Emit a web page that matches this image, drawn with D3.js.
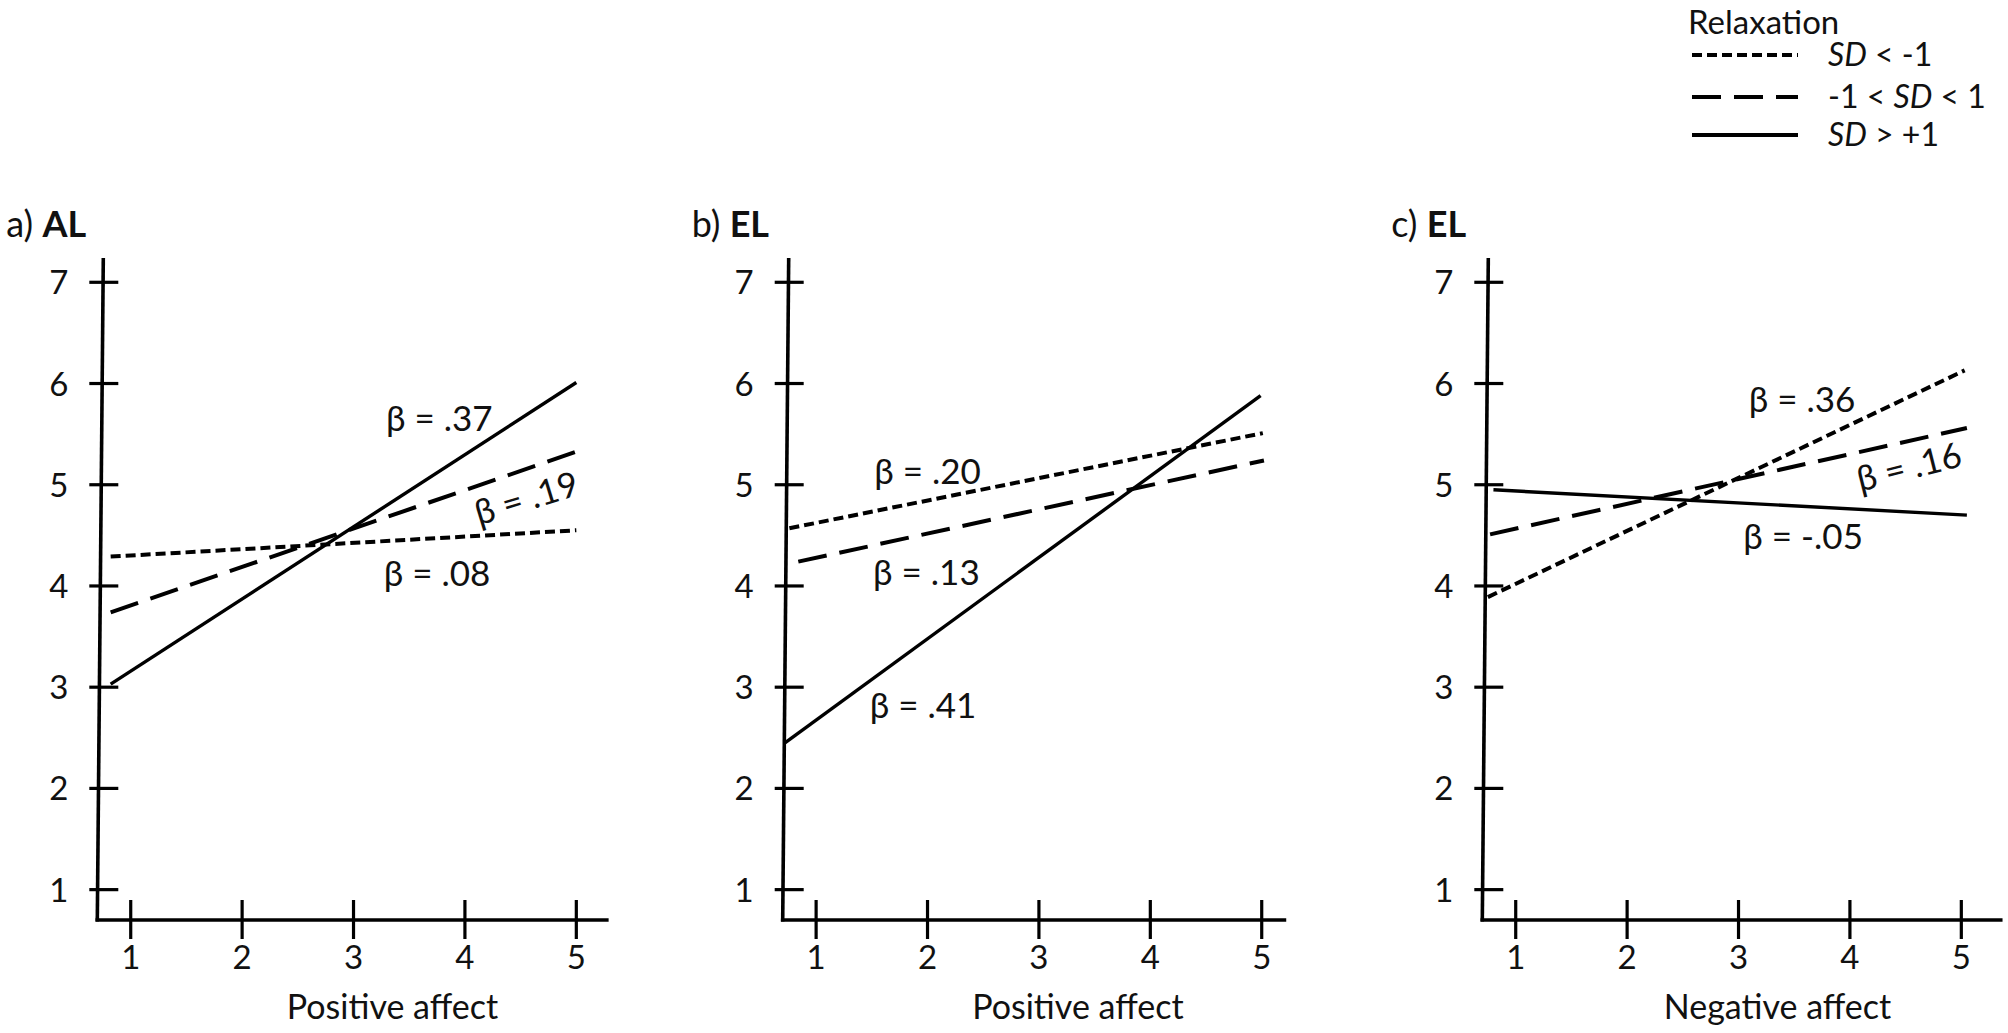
<!DOCTYPE html>
<html>
<head>
<meta charset="utf-8">
<script src="https://cdn.jsdelivr.net/npm/d3@7"></script>
<style>
  html, body { margin: 0; padding: 0; background: #fff; }
  svg { display: block; }
  text { font-family: Lato, "Open Sans", sans-serif; fill: #111; }
</style>
</head>
<body>
<svg id="chart" width="2008" height="1033"></svg>
<script>
// ---------------- DATA ----------------
const panelLetters = ["a) ", "b) ", "c) "];
const panelOutcomes = ["AL", "EL", "EL"];
const xAxisTitles = ["Positive affect", "Positive affect", "Negative affect"];
const xTickValues = [1, 2, 3, 4, 5];
const yTickValues = [1, 2, 3, 4, 5, 6, 7];
const legendTitle = "Relaxation";
const seriesKeys = ["low", "mid", "high"];
// legend labels: [prefix, italic part, suffix]
const seriesLabels = [
  ["", "SD", " < -1"],
  ["-1 < ", "SD", " < 1"],
  ["", "SD", " > +1"]
];
// endpoints of simple slopes [ [x0, y0], [x1, y1] ] per panel
const lowLines  = [[[0.82, 4.29], [5.00, 4.55]], [[0.76, 4.57], [5.01, 5.51]], [[0.75, 3.89], [5.03, 6.13]]];
const midLines  = [[[0.82, 3.74], [5.01, 5.33]], [[0.84, 4.24], [5.02, 5.24]], [[0.77, 4.51], [5.05, 5.56]]];
const highLines = [[[0.82, 3.03], [5.00, 6.01]], [[0.72, 2.45], [4.99, 5.88]], [[0.80, 4.95], [5.05, 4.70]]];
// beta labels per panel
const betaLow  = [".08", ".20", ".36"];
const betaMid  = [".19", ".13", ".16"];
const betaHigh = [".37", ".41", "-.05"];

// ---------------- LAYOUT (positions/styles only) ----------------
const panelLeft = [97.3, 782.7, 1482.3];
const panelXMax = [5.29, 5.22, 5.37];
const xMin = 0.7, yMin = 0.7, yMax = 7.24;
const pxPerX = 111.4;
const yTop = 258, yBottom = 920;
const axisSlant = 6;
const betaLowPos  = [[3.75, 4.12, 0], [2.00, 5.13, 0], [3.57, 5.84, 0]];
const betaMidPos  = [[4.55, 4.87, -17], [1.99, 4.13, 0], [4.53, 5.18, -14]];
const betaHighPos = [[3.77, 5.66, 0], [1.96, 2.82, 0], [3.58, 4.49, 0]];
const axisTitleX = 3.35;
const styles = {
  low:  { dash: "10,5",  width: 4 },
  mid:  { dash: "29,13", width: 4 },
  high: { dash: null,    width: 3.4 }
};

const svg = d3.select("#chart");
const y = d3.scaleLinear().domain([yMin, yMax]).range([yBottom, yTop]);

const seriesData = { low: lowLines, mid: midLines, high: highLines };
const betaText = { low: betaLow, mid: betaMid, high: betaHigh };
const betaPos = { low: betaLowPos, mid: betaMidPos, high: betaHighPos };

panelLeft.forEach((left, p) => {
  const x = d3.scaleLinear()
    .domain([xMin, panelXMax[p]])
    .range([left, left + (panelXMax[p] - xMin) * pxPerX]);
  const g = svg.append("g");

  const t = g.append("text")
    .attr("x", left - 91).attr("y", 237)
    .attr("font-size", 36);
  t.append("tspan").text(panelLetters[p]);
  t.append("tspan").attr("font-weight", 700).text(panelOutcomes[p]);

  g.append("line")
    .attr("x1", x(xMin)).attr("y1", y(yMin) + 1.5)
    .attr("x2", x(xMin) + axisSlant).attr("y2", y(yMax))
    .attr("stroke", "#000").attr("stroke-width", 3.6);
  g.append("line")
    .attr("x1", x(xMin) - 1.8).attr("y1", y(yMin))
    .attr("x2", x(panelXMax[p])).attr("y2", y(yMin))
    .attr("stroke", "#000").attr("stroke-width", 3.6);

  g.selectAll(".yt").data(yTickValues).enter().append("line")
    .attr("x1", x(xMin) - 8).attr("x2", x(xMin) + 21)
    .attr("y1", d => y(d)).attr("y2", d => y(d))
    .attr("stroke", "#000").attr("stroke-width", 3.2);
  g.selectAll(".yl").data(yTickValues).enter().append("text")
    .attr("x", x(xMin) - 29).attr("y", d => y(d) + 12)
    .attr("text-anchor", "end").attr("font-size", 33)
    .text(d => d);

  g.selectAll(".xt").data(xTickValues).enter().append("line")
    .attr("x1", d => x(d)).attr("x2", d => x(d))
    .attr("y1", y(yMin) - 20).attr("y2", y(yMin) + 19)
    .attr("stroke", "#000").attr("stroke-width", 3.2);
  g.selectAll(".xl").data(xTickValues).enter().append("text")
    .attr("x", d => x(d)).attr("y", 969)
    .attr("text-anchor", "middle").attr("font-size", 33)
    .text(d => d);

  g.append("text")
    .attr("x", x(axisTitleX)).attr("y", 1019)
    .attr("text-anchor", "middle").attr("font-size", 34)
    .text(xAxisTitles[p]);

  const lineGen = d3.line().x(d => x(d[0])).y(d => y(d[1]));
  seriesKeys.forEach(k => {
    g.append("path")
      .attr("d", lineGen(seriesData[k][p]))
      .attr("fill", "none").attr("stroke", "#000")
      .attr("stroke-width", styles[k].width)
      .attr("stroke-dasharray", styles[k].dash);
    const pos = betaPos[k][p];
    const px = x(pos[0]), py = y(pos[1]);
    g.append("text")
      .attr("transform", `translate(${px},${py}) rotate(${pos[2]})`)
      .attr("text-anchor", "middle").attr("dy", "0.36em")
      .attr("font-size", 35)
      .text("β = " + betaText[k][p]);
  });
});

// ---------------- LEGEND ----------------
const lg = svg.append("g");
lg.append("text").attr("x", 1688).attr("y", 34).attr("font-size", 33).text(legendTitle);
const legendRowY = [55, 97, 135];
seriesKeys.forEach((k, i) => {
  lg.append("line")
    .attr("x1", 1692).attr("x2", 1798)
    .attr("y1", legendRowY[i]).attr("y2", legendRowY[i])
    .attr("stroke", "#000").attr("stroke-width", 4.2)
    .attr("stroke-dasharray", styles[k].dash);
  const tx = lg.append("text").attr("x", 1828).attr("y", legendRowY[i] + 11).attr("font-size", 32);
  seriesLabels[i].forEach((s, j) => {
    if (!s) return;
    const ts = tx.append("tspan").text(s);
    if (j === 1) ts.attr("font-style", "italic");
  });
});
</script>
</body>
</html>
